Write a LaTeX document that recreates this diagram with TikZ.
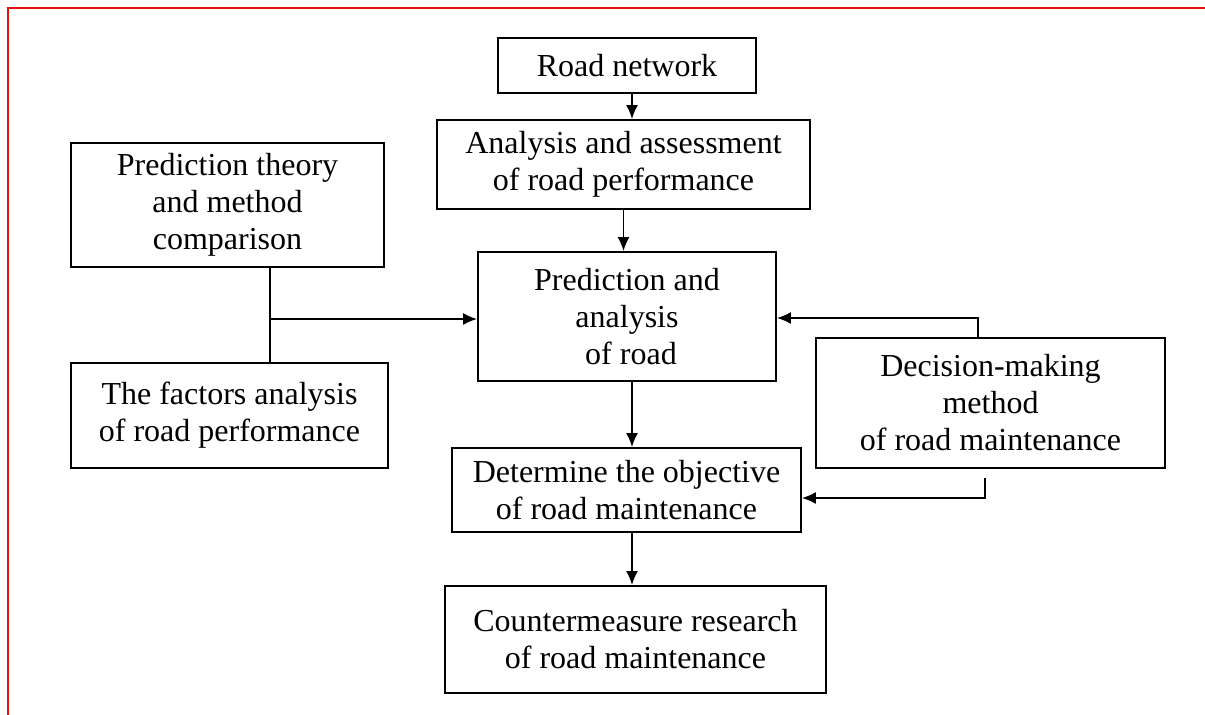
\documentclass[tikz,border=0pt]{standalone}
\usepackage{fontspec}
\setmainfont{Liberation Serif}
\usepackage{tikz}
\usetikzlibrary{arrows.meta}
\definecolor{frame}{rgb}{0.93,0.05,0.05}

\tikzset{
  box/.style={draw, line width=0.9pt, align=center, inner sep=0pt,
    font=\fontsize{16}{18.5}\selectfont},
  arr/.style={line width=0.9pt, -{Latex[length=7pt,width=6pt]}},
  link/.style={line width=0.9pt}
}

\begin{document}
\begin{tikzpicture}[x=0.5pt,y=0.5pt,yscale=-1,xscale=1]
\useasboundingbox (0,0) rectangle (1205,715);

% page frame
\draw [frame, line width=1pt] (8,715) -- (8,8) -- (1205,8);

% Boxes
\node [box, minimum width=129pt, minimum height=27.5pt] (net) at (627,65.5) {Road network};
\node [box, minimum width=186.5pt, minimum height=44.5pt] (assess) at (623.5,164.5) {Analysis and assessment\\of road performance};
\node [box, minimum width=156.5pt, minimum height=62pt] (theory) at (227.5,205) {Prediction theory\\and method\\comparison};
\node [box, minimum width=158.5pt, minimum height=52.5pt] (factors) at (229.5,415.5) {The factors analysis\\of road performance};
\node [box, minimum width=149pt, minimum height=64.5pt] (pred) at (627,316.5) {Prediction and\\analysis\\\ of road};
\node [box, minimum width=174.5pt, minimum height=65pt] (decision) at (990.5,403) {Decision-making\\method\\of road maintenance};
\node [box, minimum width=174.5pt, minimum height=42pt] (objective) at (626.5,490) {Determine the objective\\of road maintenance};
\node [box, minimum width=190.5pt, minimum height=53.5pt] (counter) at (635.5,639.5) {Countermeasure research\\of road maintenance};

% Connector points
\coordinate (trunk) at (632,0);
\coordinate (join) at (270,319);
\coordinate (up) at (978,318);
\coordinate (dntop) at (985,478);
\coordinate (dn) at (985,498);

% Connectors
\draw [arr] (net.south -| trunk) -- (assess.north -| trunk);
\draw [arr] (assess.south) -- (pred.north -| assess.south);
\draw [link] (theory.south -| join) -- (factors.north -| join);
\draw [arr] (join) -- (join -| pred.west);
\draw [arr] (decision.north -| up) -- (up) -- (up -| pred.east);
\draw [arr] (pred.south -| trunk) -- (objective.north -| trunk);
\draw [arr] (dntop) -- (dn) -- (dn -| objective.east);
\draw [arr] (objective.south -| trunk) -- (counter.north -| trunk);

\end{tikzpicture}
\end{document}
